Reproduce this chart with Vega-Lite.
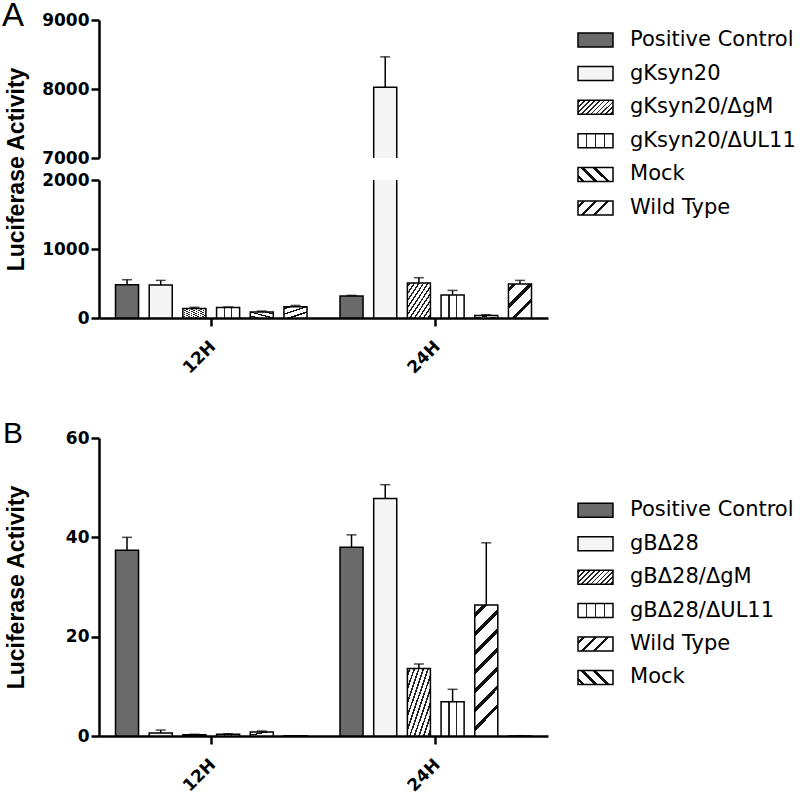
{
  "$schema": "https://vega.github.io/schema/vega-lite/v6.json",
  "background": "white",
  "padding": {"left": 2, "top": 0, "right": 0, "bottom": 0},
  "spacing": 42,
  "config": {
    "view": {"stroke": null},
    "axis": {
      "domainColor": "black", "domainWidth": 2.5, "tickColor": "black", "tickWidth": 2.5, "tickSize": 8,
      "labelColor": "black", "labelFont": "DejaVu Sans", "labelFontWeight": "bold", "labelFontSize": 17, "labelPadding": 2,
      "grid": false, "titleColor": "black", "titleFont": "Liberation Sans", "titleFontWeight": "bold", "titleFontSize": 23
    }
  },
  "datasets": {
    "A": [
      {"time": "12H", "series": "Positive Control", "value": 483, "upper": 555},
      {"time": "12H", "series": "gKsyn20", "value": 478, "upper": 545},
      {"time": "12H", "series": "gKsyn20/ΔgM", "value": 139, "upper": 155},
      {"time": "12H", "series": "gKsyn20/ΔUL11", "value": 152, "upper": 160},
      {"time": "12H", "series": "Mock", "value": 87, "upper": 100},
      {"time": "12H", "series": "Wild Type", "value": 164, "upper": 182},
      {"time": "24H", "series": "Positive Control", "value": 319, "upper": 328},
      {"time": "24H", "series": "gKsyn20", "value": 8025, "upper": 8466},
      {"time": "24H", "series": "gKsyn20/ΔgM", "value": 507, "upper": 584},
      {"time": "24H", "series": "gKsyn20/ΔUL11", "value": 333, "upper": 400},
      {"time": "24H", "series": "Mock", "value": 38, "upper": 48},
      {"time": "24H", "series": "Wild Type", "value": 493, "upper": 545}
    ],
    "B": [
      {"time": "12H", "series": "Positive Control", "value": 37.4, "upper": 40.0},
      {"time": "12H", "series": "gBΔ28", "value": 0.6, "upper": 1.2},
      {"time": "12H", "series": "gBΔ28/ΔgM", "value": 0.25, "upper": 0.35},
      {"time": "12H", "series": "gBΔ28/ΔUL11", "value": 0.35, "upper": 0.45},
      {"time": "12H", "series": "Wild Type", "value": 0.8, "upper": 1.0},
      {"time": "12H", "series": "Mock", "value": 0.05, "upper": 0.05},
      {"time": "24H", "series": "Positive Control", "value": 38.0, "upper": 40.5},
      {"time": "24H", "series": "gBΔ28", "value": 47.8, "upper": 50.6},
      {"time": "24H", "series": "gBΔ28/ΔgM", "value": 13.6, "upper": 14.5},
      {"time": "24H", "series": "gBΔ28/ΔUL11", "value": 6.9, "upper": 9.4},
      {"time": "24H", "series": "Wild Type", "value": 26.4, "upper": 38.9},
      {"time": "24H", "series": "Mock", "value": 0, "upper": 0}
    ]
  },
  "resolve": {"scale": {"fill": "independent", "x": "independent", "y": "independent", "xOffset": "independent"}},
  "vconcat": [
    {
      "spacing": 29,
      "resolve": {"scale": {"fill": "independent", "x": "independent", "y": "independent", "xOffset": "independent"}},
      "hconcat": [
        {
          "bounds": "flush",
          "spacing": 22,
          "resolve": {"scale": {"fill": "independent", "x": "independent", "y": "independent", "xOffset": "independent"}},
          "vconcat": [
            {
              "data": {"name": "A"},
              "width": 449, "height": 138,
              "title": {"text": "A", "anchor": "start", "frame": "group", "dx": -97, "dy": 48, "offset": 0, "baseline": "alphabetic", "font": "Liberation Sans", "fontSize": 33, "fontWeight": "normal", "color": "black"},
              "encoding": {
                "x": {"field": "time", "type": "nominal", "axis": null, "scale": {"paddingInner": 0, "paddingOuter": 0}},
                "xOffset": {"field": "series", "type": "nominal", "sort": ["Positive Control", "gKsyn20", "gKsyn20/ΔgM", "gKsyn20/ΔUL11", "Mock", "Wild Type"], "scale": {"paddingInner": 0.316, "paddingOuter": 0.49}}
              },
              "layer": [
                {
                  "mark": {"type": "bar", "clip": true, "stroke": "black", "strokeWidth": 1.5},
                  "encoding": {
                    "y": {"field": "value", "type": "quantitative", "scale": {"domain": [7000, 9000]}, "axis": {"values": [7000, 8000, 9000], "format": "d", "title": "Luciferase Activity", "titleX": -71, "titleY": 149, "titleBaseline": "bottom"}},
                    "y2": {"datum": 0},
                    "fill": {
                      "field": "series", "type": "nominal", "legend": null,
                      "scale": {"domain": ["Positive Control", "gKsyn20", "gKsyn20/ΔgM", "gKsyn20/ΔUL11", "Mock", "Wild Type"], "range": ["#6a6a6a", "#f5f5f5", "#a8a8a8", "#ffffff", "#ffffff", "#ffffff"]}
                    }
                  }
                },
                {
                  "mark": {"type": "rule", "clip": true, "strokeWidth": 1.5, "color": "black"},
                  "encoding": {"y": {"field": "value", "type": "quantitative", "scale": {"domain": [7000, 9000]}}, "y2": {"field": "upper"}}
                },
                {
                  "mark": {"type": "tick", "clip": true, "orient": "horizontal", "size": 10, "thickness": 1.5, "color": "black"},
                  "encoding": {"y": {"field": "upper", "type": "quantitative", "scale": {"domain": [7000, 9000]}}}
                }
              ]
            },
            {
              "data": {"name": "A"},
              "width": 449, "height": 138,
              "encoding": {
                "x": {"field": "time", "type": "nominal", "scale": {"paddingInner": 0, "paddingOuter": 0}, "axis": {"title": null, "labelAngle": -45, "labelPadding": 12, "labelOffset": -4}},
                "xOffset": {"field": "series", "type": "nominal", "sort": ["Positive Control", "gKsyn20", "gKsyn20/ΔgM", "gKsyn20/ΔUL11", "Mock", "Wild Type"], "scale": {"paddingInner": 0.316, "paddingOuter": 0.49}}
              },
              "layer": [
                {
                  "mark": {"type": "bar", "clip": true, "stroke": "black", "strokeWidth": 1.5},
                  "encoding": {
                    "y": {"field": "value", "type": "quantitative", "scale": {"domain": [0, 2000]}, "axis": {"values": [0, 1000, 2000], "format": "d", "title": null}},
                    "y2": {"datum": 0},
                    "fill": {
                      "field": "series", "type": "nominal", "legend": null,
                      "scale": {"domain": ["Positive Control", "gKsyn20", "gKsyn20/ΔgM", "gKsyn20/ΔUL11", "Mock", "Wild Type"], "range": ["#6a6a6a", "#f5f5f5", "#a8a8a8", "#ffffff", "#ffffff", "#ffffff"]},
                      "condition": [
                        {"test": "datum.series === 'Mock'", "value": {"gradient": "linear", "x1": 0, "y1": 1, "x2": 1, "y2": 0, "stops": [{"offset": 0, "color": "white"}, {"offset": 0.12, "color": "white"}, {"offset": 0.12, "color": "#111"}, {"offset": 0.22, "color": "#111"}, {"offset": 0.22, "color": "white"}, {"offset": 0.45, "color": "white"}, {"offset": 0.45, "color": "#111"}, {"offset": 0.55, "color": "#111"}, {"offset": 0.55, "color": "white"}, {"offset": 0.78, "color": "white"}, {"offset": 0.78, "color": "#111"}, {"offset": 0.88, "color": "#111"}, {"offset": 0.88, "color": "white"}, {"offset": 1, "color": "white"}]}},
                        {"test": "datum.series === 'Wild Type'", "value": {"gradient": "linear", "x1": 0, "y1": 0, "x2": 0.676, "y2": 1, "stops": [{"offset": 0, "color": "white"}, {"offset": 0.08, "color": "white"}, {"offset": 0.08, "color": "#111"}, {"offset": 0.17, "color": "#111"}, {"offset": 0.17, "color": "white"}, {"offset": 0.41, "color": "white"}, {"offset": 0.41, "color": "#111"}, {"offset": 0.5, "color": "#111"}, {"offset": 0.5, "color": "white"}, {"offset": 0.74, "color": "white"}, {"offset": 0.74, "color": "#111"}, {"offset": 0.83, "color": "#111"}, {"offset": 0.83, "color": "white"}, {"offset": 1, "color": "white"}]}},
                        {"test": "indexof(datum.series, 'UL11') >= 0", "value": {"gradient": "linear", "x1": 0, "y1": 0, "x2": 1, "y2": 0, "stops": [{"offset": 0, "color": "white"}, {"offset": 0.31, "color": "white"}, {"offset": 0.31, "color": "#222"}, {"offset": 0.37, "color": "#222"}, {"offset": 0.37, "color": "white"}, {"offset": 0.63, "color": "white"}, {"offset": 0.63, "color": "#222"}, {"offset": 0.69, "color": "#222"}, {"offset": 0.69, "color": "white"}, {"offset": 1, "color": "white"}]}},
                        {"test": "indexof(datum.series, 'gM') >= 0", "value": {"gradient": "linear", "x1": 0, "y1": 0, "x2": 1, "y2": 1, "stops": [{"offset": 0, "color": "white"}, {"offset": 0.035, "color": "white"}, {"offset": 0.035, "color": "#222"}, {"offset": 0.07, "color": "#222"}, {"offset": 0.07, "color": "white"}, {"offset": 0.135, "color": "white"}, {"offset": 0.135, "color": "#222"}, {"offset": 0.17, "color": "#222"}, {"offset": 0.17, "color": "white"}, {"offset": 0.235, "color": "white"}, {"offset": 0.235, "color": "#222"}, {"offset": 0.27, "color": "#222"}, {"offset": 0.27, "color": "white"}, {"offset": 0.335, "color": "white"}, {"offset": 0.335, "color": "#222"}, {"offset": 0.37, "color": "#222"}, {"offset": 0.37, "color": "white"}, {"offset": 0.435, "color": "white"}, {"offset": 0.435, "color": "#222"}, {"offset": 0.47, "color": "#222"}, {"offset": 0.47, "color": "white"}, {"offset": 0.535, "color": "white"}, {"offset": 0.535, "color": "#222"}, {"offset": 0.57, "color": "#222"}, {"offset": 0.57, "color": "white"}, {"offset": 0.635, "color": "white"}, {"offset": 0.635, "color": "#222"}, {"offset": 0.67, "color": "#222"}, {"offset": 0.67, "color": "white"}, {"offset": 0.735, "color": "white"}, {"offset": 0.735, "color": "#222"}, {"offset": 0.77, "color": "#222"}, {"offset": 0.77, "color": "white"}, {"offset": 0.835, "color": "white"}, {"offset": 0.835, "color": "#222"}, {"offset": 0.87, "color": "#222"}, {"offset": 0.87, "color": "white"}, {"offset": 0.935, "color": "white"}, {"offset": 0.935, "color": "#222"}, {"offset": 0.97, "color": "#222"}, {"offset": 0.97, "color": "white"}, {"offset": 1, "color": "white"}]}}
                      ]
                    }
                  }
                },
                {
                  "mark": {"type": "rule", "clip": true, "strokeWidth": 1.5, "color": "black"},
                  "encoding": {"y": {"field": "value", "type": "quantitative", "scale": {"domain": [0, 2000]}}, "y2": {"field": "upper"}}
                },
                {
                  "mark": {"type": "tick", "clip": true, "orient": "horizontal", "size": 10, "thickness": 1.5, "color": "black"},
                  "encoding": {"y": {"field": "upper", "type": "quantitative", "scale": {"domain": [0, 2000]}}}
                }
              ]
            }
          ]
        },
        {
          "data": {"name": "A"},
          "transform": [{"filter": "datum.time === '12H'"}],
          "width": 222, "height": 208,
          "encoding": {"y": {"field": "series", "type": "nominal", "sort": ["Positive Control", "gKsyn20", "gKsyn20/ΔgM", "gKsyn20/ΔUL11", "Mock", "Wild Type"], "axis": null, "scale": {"paddingInner": 0.585, "paddingOuter": 0.386}}},
          "layer": [
            {
              "mark": {"type": "bar", "stroke": "black", "strokeWidth": 1.5},
              "encoding": {
                "x": {"datum": 0, "type": "quantitative", "scale": {"domain": [0, 6.343], "nice": false, "zero": false}, "axis": null},
                "x2": {"datum": 1},
                "fill": {
                  "field": "series", "type": "nominal", "legend": null,
                  "scale": {"domain": ["Positive Control", "gKsyn20", "gKsyn20/ΔgM", "gKsyn20/ΔUL11", "Mock", "Wild Type"], "range": ["#6a6a6a", "#f5f5f5", "#a8a8a8", "#ffffff", "#ffffff", "#ffffff"]},
                  "condition": [
                    {"test": "datum.series === 'Mock'", "value": {"gradient": "linear", "x1": 0, "y1": 1, "x2": 1, "y2": 0.6, "stops": [{"offset": 0, "color": "white"}, {"offset": 0.1, "color": "white"}, {"offset": 0.1, "color": "#111"}, {"offset": 0.18, "color": "#111"}, {"offset": 0.18, "color": "white"}, {"offset": 0.4, "color": "white"}, {"offset": 0.4, "color": "#111"}, {"offset": 0.48, "color": "#111"}, {"offset": 0.48, "color": "white"}, {"offset": 0.7, "color": "white"}, {"offset": 0.7, "color": "#111"}, {"offset": 0.78, "color": "#111"}, {"offset": 0.78, "color": "white"}, {"offset": 1, "color": "white"}]}},
                    {"test": "datum.series === 'Wild Type'", "value": {"gradient": "linear", "x1": 0, "y1": 0, "x2": 1, "y2": 0.4, "stops": [{"offset": 0, "color": "white"}, {"offset": 0.1, "color": "white"}, {"offset": 0.1, "color": "#111"}, {"offset": 0.18, "color": "#111"}, {"offset": 0.18, "color": "white"}, {"offset": 0.4, "color": "white"}, {"offset": 0.4, "color": "#111"}, {"offset": 0.48, "color": "#111"}, {"offset": 0.48, "color": "white"}, {"offset": 0.7, "color": "white"}, {"offset": 0.7, "color": "#111"}, {"offset": 0.78, "color": "#111"}, {"offset": 0.78, "color": "white"}, {"offset": 1, "color": "white"}]}},
                    {"test": "indexof(datum.series, 'UL11') >= 0", "value": {"gradient": "linear", "x1": 0, "y1": 0, "x2": 1, "y2": 0, "stops": [{"offset": 0, "color": "white"}, {"offset": 0.23, "color": "white"}, {"offset": 0.23, "color": "#222"}, {"offset": 0.27, "color": "#222"}, {"offset": 0.27, "color": "white"}, {"offset": 0.48, "color": "white"}, {"offset": 0.48, "color": "#222"}, {"offset": 0.52, "color": "#222"}, {"offset": 0.52, "color": "white"}, {"offset": 0.73, "color": "white"}, {"offset": 0.73, "color": "#222"}, {"offset": 0.77, "color": "#222"}, {"offset": 0.77, "color": "white"}, {"offset": 1, "color": "white"}]}},
                    {"test": "indexof(datum.series, 'gM') >= 0", "value": {"gradient": "linear", "x1": 0, "y1": 0, "x2": 1.2, "y2": 0.48, "stops": [{"offset": 0, "color": "white"}, {"offset": 0.035, "color": "white"}, {"offset": 0.035, "color": "#222"}, {"offset": 0.07, "color": "#222"}, {"offset": 0.07, "color": "white"}, {"offset": 0.135, "color": "white"}, {"offset": 0.135, "color": "#222"}, {"offset": 0.17, "color": "#222"}, {"offset": 0.17, "color": "white"}, {"offset": 0.235, "color": "white"}, {"offset": 0.235, "color": "#222"}, {"offset": 0.27, "color": "#222"}, {"offset": 0.27, "color": "white"}, {"offset": 0.335, "color": "white"}, {"offset": 0.335, "color": "#222"}, {"offset": 0.37, "color": "#222"}, {"offset": 0.37, "color": "white"}, {"offset": 0.435, "color": "white"}, {"offset": 0.435, "color": "#222"}, {"offset": 0.47, "color": "#222"}, {"offset": 0.47, "color": "white"}, {"offset": 0.535, "color": "white"}, {"offset": 0.535, "color": "#222"}, {"offset": 0.57, "color": "#222"}, {"offset": 0.57, "color": "white"}, {"offset": 0.635, "color": "white"}, {"offset": 0.635, "color": "#222"}, {"offset": 0.67, "color": "#222"}, {"offset": 0.67, "color": "white"}, {"offset": 0.735, "color": "white"}, {"offset": 0.735, "color": "#222"}, {"offset": 0.77, "color": "#222"}, {"offset": 0.77, "color": "white"}, {"offset": 0.835, "color": "white"}, {"offset": 0.835, "color": "#222"}, {"offset": 0.87, "color": "#222"}, {"offset": 0.87, "color": "white"}, {"offset": 0.935, "color": "white"}, {"offset": 0.935, "color": "#222"}, {"offset": 0.97, "color": "#222"}, {"offset": 0.97, "color": "white"}, {"offset": 1, "color": "white"}]}}
                  ]
                }
              }
            },
            {
              "mark": {"type": "text", "align": "left", "baseline": "middle", "font": "DejaVu Sans", "fontSize": 21, "color": "black"},
              "encoding": {"x": {"datum": 1.486, "type": "quantitative"}, "text": {"field": "series"}}
            }
          ]
        }
      ]
    },
    {
      "spacing": 29,
      "resolve": {"scale": {"fill": "independent", "x": "independent", "y": "independent", "xOffset": "independent"}},
      "hconcat": [
        {
          "data": {"name": "B"},
          "width": 449, "height": 298,
          "title": {"text": "B", "anchor": "start", "frame": "group", "dx": -96, "dy": 44, "offset": 0, "baseline": "alphabetic", "font": "Liberation Sans", "fontSize": 30, "fontWeight": "normal", "color": "black"},
          "encoding": {
            "x": {"field": "time", "type": "nominal", "scale": {"paddingInner": 0, "paddingOuter": 0}, "axis": {"title": null, "labelAngle": -45, "labelPadding": 12, "labelOffset": -4}},
            "xOffset": {"field": "series", "type": "nominal", "sort": ["Positive Control", "gBΔ28", "gBΔ28/ΔgM", "gBΔ28/ΔUL11", "Wild Type", "Mock"], "scale": {"paddingInner": 0.316, "paddingOuter": 0.49}}
          },
          "layer": [
            {
              "mark": {"type": "bar", "clip": true, "stroke": "black", "strokeWidth": 1.5},
              "encoding": {
                "y": {"field": "value", "type": "quantitative", "scale": {"domain": [0, 60]}, "axis": {"values": [0, 20, 40, 60], "format": "d", "title": "Luciferase Activity", "titleX": -71, "titleBaseline": "bottom"}},
                "y2": {"datum": 0},
                "fill": {
                  "field": "series", "type": "nominal", "legend": null,
                  "scale": {"domain": ["Positive Control", "gBΔ28", "gBΔ28/ΔgM", "gBΔ28/ΔUL11", "Wild Type", "Mock"], "range": ["#6a6a6a", "#f5f5f5", "#a8a8a8", "#ffffff", "#ffffff", "#ffffff"]},
                  "condition": [
                    {"test": "datum.series === 'Wild Type' && datum.value > 20", "value": {"gradient": "linear", "x1": 0, "y1": 0, "x2": 0.177, "y2": 1, "stops": [{"offset": 0, "color": "white"}, {"offset": 0.06, "color": "white"}, {"offset": 0.06, "color": "#111"}, {"offset": 0.095, "color": "#111"}, {"offset": 0.095, "color": "white"}, {"offset": 0.2, "color": "white"}, {"offset": 0.2, "color": "#111"}, {"offset": 0.235, "color": "#111"}, {"offset": 0.235, "color": "white"}, {"offset": 0.34, "color": "white"}, {"offset": 0.34, "color": "#111"}, {"offset": 0.375, "color": "#111"}, {"offset": 0.375, "color": "white"}, {"offset": 0.48, "color": "white"}, {"offset": 0.48, "color": "#111"}, {"offset": 0.515, "color": "#111"}, {"offset": 0.515, "color": "white"}, {"offset": 0.62, "color": "white"}, {"offset": 0.62, "color": "#111"}, {"offset": 0.655, "color": "#111"}, {"offset": 0.655, "color": "white"}, {"offset": 0.76, "color": "white"}, {"offset": 0.76, "color": "#111"}, {"offset": 0.795, "color": "#111"}, {"offset": 0.795, "color": "white"}, {"offset": 0.9, "color": "white"}, {"offset": 0.9, "color": "#111"}, {"offset": 0.935, "color": "#111"}, {"offset": 0.935, "color": "white"}, {"offset": 1, "color": "white"}]}},
                    {"test": "datum.series === 'Wild Type'", "value": {"gradient": "linear", "x1": 0, "y1": 0, "x2": 1, "y2": 1, "stops": [{"offset": 0, "color": "white"}, {"offset": 0.3, "color": "white"}, {"offset": 0.3, "color": "#111"}, {"offset": 0.45, "color": "#111"}, {"offset": 0.45, "color": "white"}, {"offset": 1, "color": "white"}]}},
                    {"test": "indexof(datum.series, 'UL11') >= 0", "value": {"gradient": "linear", "x1": 0, "y1": 0, "x2": 1, "y2": 0, "stops": [{"offset": 0, "color": "white"}, {"offset": 0.31, "color": "white"}, {"offset": 0.31, "color": "#222"}, {"offset": 0.37, "color": "#222"}, {"offset": 0.37, "color": "white"}, {"offset": 0.63, "color": "white"}, {"offset": 0.63, "color": "#222"}, {"offset": 0.69, "color": "#222"}, {"offset": 0.69, "color": "white"}, {"offset": 1, "color": "white"}]}},
                    {"test": "indexof(datum.series, 'gM') >= 0", "value": {"gradient": "linear", "x1": 0, "y1": 0, "x2": 1, "y2": 1, "stops": [{"offset": 0, "color": "white"}, {"offset": 0.035, "color": "white"}, {"offset": 0.035, "color": "#222"}, {"offset": 0.07, "color": "#222"}, {"offset": 0.07, "color": "white"}, {"offset": 0.135, "color": "white"}, {"offset": 0.135, "color": "#222"}, {"offset": 0.17, "color": "#222"}, {"offset": 0.17, "color": "white"}, {"offset": 0.235, "color": "white"}, {"offset": 0.235, "color": "#222"}, {"offset": 0.27, "color": "#222"}, {"offset": 0.27, "color": "white"}, {"offset": 0.335, "color": "white"}, {"offset": 0.335, "color": "#222"}, {"offset": 0.37, "color": "#222"}, {"offset": 0.37, "color": "white"}, {"offset": 0.435, "color": "white"}, {"offset": 0.435, "color": "#222"}, {"offset": 0.47, "color": "#222"}, {"offset": 0.47, "color": "white"}, {"offset": 0.535, "color": "white"}, {"offset": 0.535, "color": "#222"}, {"offset": 0.57, "color": "#222"}, {"offset": 0.57, "color": "white"}, {"offset": 0.635, "color": "white"}, {"offset": 0.635, "color": "#222"}, {"offset": 0.67, "color": "#222"}, {"offset": 0.67, "color": "white"}, {"offset": 0.735, "color": "white"}, {"offset": 0.735, "color": "#222"}, {"offset": 0.77, "color": "#222"}, {"offset": 0.77, "color": "white"}, {"offset": 0.835, "color": "white"}, {"offset": 0.835, "color": "#222"}, {"offset": 0.87, "color": "#222"}, {"offset": 0.87, "color": "white"}, {"offset": 0.935, "color": "white"}, {"offset": 0.935, "color": "#222"}, {"offset": 0.97, "color": "#222"}, {"offset": 0.97, "color": "white"}, {"offset": 1, "color": "white"}]}}
                  ]
                }
              }
            },
            {
              "mark": {"type": "rule", "clip": true, "strokeWidth": 1.5, "color": "black"},
              "encoding": {"y": {"field": "value", "type": "quantitative", "scale": {"domain": [0, 60]}}, "y2": {"field": "upper"}}
            },
            {
              "mark": {"type": "tick", "clip": true, "orient": "horizontal", "size": 10, "thickness": 1.5, "color": "black"},
              "encoding": {"y": {"field": "upper", "type": "quantitative", "scale": {"domain": [0, 60]}}}
            }
          ]
        },
        {
          "data": {"name": "B"},
          "transform": [{"filter": "datum.time === '12H'"}],
          "width": 222, "height": 248,
          "encoding": {"y": {"field": "series", "type": "nominal", "sort": ["Positive Control", "gBΔ28", "gBΔ28/ΔgM", "gBΔ28/ΔUL11", "Wild Type", "Mock"], "axis": null, "scale": {"paddingInner": 0.58, "paddingOuter": 1, "align": 0.977}}},
          "layer": [
            {
              "mark": {"type": "bar", "stroke": "black", "strokeWidth": 1.5},
              "encoding": {
                "x": {"datum": 0, "type": "quantitative", "scale": {"domain": [0, 6.343], "nice": false, "zero": false}, "axis": null},
                "x2": {"datum": 1},
                "fill": {
                  "field": "series", "type": "nominal", "legend": null,
                  "scale": {"domain": ["Positive Control", "gBΔ28", "gBΔ28/ΔgM", "gBΔ28/ΔUL11", "Wild Type", "Mock"], "range": ["#6a6a6a", "#f5f5f5", "#a8a8a8", "#ffffff", "#ffffff", "#ffffff"]},
                  "condition": [
                    {"test": "datum.series === 'Mock'", "value": {"gradient": "linear", "x1": 0, "y1": 1, "x2": 1, "y2": 0.6, "stops": [{"offset": 0, "color": "white"}, {"offset": 0.1, "color": "white"}, {"offset": 0.1, "color": "#111"}, {"offset": 0.18, "color": "#111"}, {"offset": 0.18, "color": "white"}, {"offset": 0.4, "color": "white"}, {"offset": 0.4, "color": "#111"}, {"offset": 0.48, "color": "#111"}, {"offset": 0.48, "color": "white"}, {"offset": 0.7, "color": "white"}, {"offset": 0.7, "color": "#111"}, {"offset": 0.78, "color": "#111"}, {"offset": 0.78, "color": "white"}, {"offset": 1, "color": "white"}]}},
                    {"test": "datum.series === 'Wild Type'", "value": {"gradient": "linear", "x1": 0, "y1": 0, "x2": 1, "y2": 0.4, "stops": [{"offset": 0, "color": "white"}, {"offset": 0.1, "color": "white"}, {"offset": 0.1, "color": "#111"}, {"offset": 0.18, "color": "#111"}, {"offset": 0.18, "color": "white"}, {"offset": 0.4, "color": "white"}, {"offset": 0.4, "color": "#111"}, {"offset": 0.48, "color": "#111"}, {"offset": 0.48, "color": "white"}, {"offset": 0.7, "color": "white"}, {"offset": 0.7, "color": "#111"}, {"offset": 0.78, "color": "#111"}, {"offset": 0.78, "color": "white"}, {"offset": 1, "color": "white"}]}},
                    {"test": "indexof(datum.series, 'UL11') >= 0", "value": {"gradient": "linear", "x1": 0, "y1": 0, "x2": 1, "y2": 0, "stops": [{"offset": 0, "color": "white"}, {"offset": 0.23, "color": "white"}, {"offset": 0.23, "color": "#222"}, {"offset": 0.27, "color": "#222"}, {"offset": 0.27, "color": "white"}, {"offset": 0.48, "color": "white"}, {"offset": 0.48, "color": "#222"}, {"offset": 0.52, "color": "#222"}, {"offset": 0.52, "color": "white"}, {"offset": 0.73, "color": "white"}, {"offset": 0.73, "color": "#222"}, {"offset": 0.77, "color": "#222"}, {"offset": 0.77, "color": "white"}, {"offset": 1, "color": "white"}]}},
                    {"test": "indexof(datum.series, 'gM') >= 0", "value": {"gradient": "linear", "x1": 0, "y1": 0, "x2": 1.2, "y2": 0.48, "stops": [{"offset": 0, "color": "white"}, {"offset": 0.035, "color": "white"}, {"offset": 0.035, "color": "#222"}, {"offset": 0.07, "color": "#222"}, {"offset": 0.07, "color": "white"}, {"offset": 0.135, "color": "white"}, {"offset": 0.135, "color": "#222"}, {"offset": 0.17, "color": "#222"}, {"offset": 0.17, "color": "white"}, {"offset": 0.235, "color": "white"}, {"offset": 0.235, "color": "#222"}, {"offset": 0.27, "color": "#222"}, {"offset": 0.27, "color": "white"}, {"offset": 0.335, "color": "white"}, {"offset": 0.335, "color": "#222"}, {"offset": 0.37, "color": "#222"}, {"offset": 0.37, "color": "white"}, {"offset": 0.435, "color": "white"}, {"offset": 0.435, "color": "#222"}, {"offset": 0.47, "color": "#222"}, {"offset": 0.47, "color": "white"}, {"offset": 0.535, "color": "white"}, {"offset": 0.535, "color": "#222"}, {"offset": 0.57, "color": "#222"}, {"offset": 0.57, "color": "white"}, {"offset": 0.635, "color": "white"}, {"offset": 0.635, "color": "#222"}, {"offset": 0.67, "color": "#222"}, {"offset": 0.67, "color": "white"}, {"offset": 0.735, "color": "white"}, {"offset": 0.735, "color": "#222"}, {"offset": 0.77, "color": "#222"}, {"offset": 0.77, "color": "white"}, {"offset": 0.835, "color": "white"}, {"offset": 0.835, "color": "#222"}, {"offset": 0.87, "color": "#222"}, {"offset": 0.87, "color": "white"}, {"offset": 0.935, "color": "white"}, {"offset": 0.935, "color": "#222"}, {"offset": 0.97, "color": "#222"}, {"offset": 0.97, "color": "white"}, {"offset": 1, "color": "white"}]}}
                  ]
                }
              }
            },
            {
              "mark": {"type": "text", "align": "left", "baseline": "middle", "font": "DejaVu Sans", "fontSize": 21, "color": "black"},
              "encoding": {"x": {"datum": 1.486, "type": "quantitative"}, "text": {"field": "series"}}
            }
          ]
        }
      ]
    }
  ]
}
